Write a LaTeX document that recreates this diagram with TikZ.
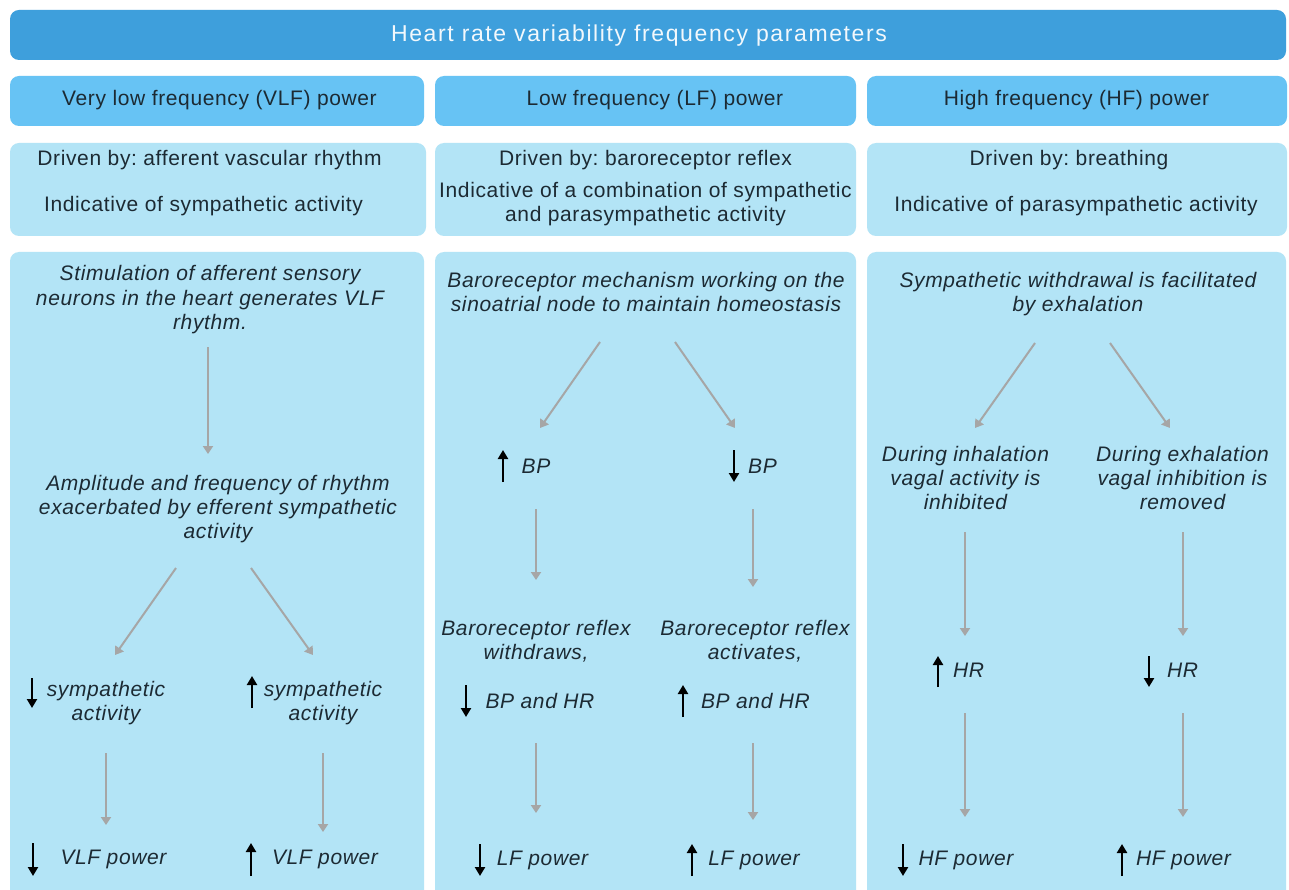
\documentclass[tikz,border=0pt]{standalone}
\usepackage{fontspec}
\newfontfamily\bodyf{Liberation Sans}[LetterSpace=3]
\newfontfamily\titlef{Liberation Sans}[LetterSpace=7]
\usetikzlibrary{arrows.meta,calc}
\definecolor{titlebg}{HTML}{3E9FDC}
\definecolor{titletxt}{HTML}{F2F8FC}
\definecolor{hdrbg}{HTML}{67C3F4}
\definecolor{boxbg}{HTML}{B3E4F6}
\definecolor{txt}{HTML}{1C2A33}
\definecolor{garr}{HTML}{A6A6A6}
\newcommand\ls{\rule[-6pt]{0pt}{22pt}}
\newcommand\indup[3]{\draw[indarrow] (#1,#3) -- (#1,#2);}
\newcommand\inddn[3]{\draw[indarrow] (#1,#2) -- (#1,#3);}
\begin{document}
\frenchspacing
\begin{tikzpicture}[x=1pt,y=-1pt,
  every node/.style={inner sep=0pt, outer sep=0pt, text=txt, font=\bodyf\frenchspacing\fontsize{21}{24}\selectfont},
  stx/.style={anchor=base},
  itx/.style={font=\bodyf\frenchspacing\itshape\fontsize{21}{24}\selectfont, align=center, anchor=north},
  sitx/.style={font=\bodyf\frenchspacing\itshape\fontsize{21}{24}\selectfont, anchor=base},
  garrow/.style={draw=garr, line width=2pt, -{Triangle[width=10pt,length=8pt]}},
  indarrow/.style={draw=black, line width=2.8pt, -{Triangle[width=10pt,length=9pt]}},
  titlebox/.style={fill=titlebg, rounded corners=9pt},
  hdrbox/.style={fill=hdrbg, rounded corners=9pt},
  lightbox/.style={fill=boxbg, rounded corners=9pt}
]
\useasboundingbox (0,0) rectangle (1289,890);
\clip (0,0) rectangle (1289,890);
\fill[white] (0,0) rectangle (1289,890);

% boxes
\path[titlebox] (10,10) rectangle (1286,60);
\path[hdrbox] (10,76) rectangle (424,126);
\path[hdrbox] (435,76) rectangle (856,126);
\path[hdrbox] (867,76) rectangle (1287,126);
\path[lightbox] (10,143) rectangle (426,236);
\path[lightbox] (435,143) rectangle (856,236);
\path[lightbox] (867,143) rectangle (1287,236);
\path[lightbox] (10,252) rectangle (424,905);
\path[lightbox] (435,252) rectangle (856,905);
\path[lightbox] (867,252) rectangle (1286,905);

% title and headers
\node[font=\titlef\fontsize{23}{26}\selectfont, text=titletxt, anchor=base] (title) at (639,41.5) {Heart rate variability frequency parameters};
\node[stx] (h1) at (219.5,106) {Very low frequency (VLF) power};
\node[stx] (h2) at (655,106) {Low frequency (LF) power};
\node[stx] (h3) at (1076.5,106) {High frequency (HF) power};

% row 2
\node[stx] (d1a) at (209.5,165.5) {Driven by: afferent vascular rhythm};
\node[stx] (d1b) at (203.5,211.5) {Indicative of sympathetic activity};
\node[stx] (d2a) at (645.5,165.5) {Driven by: baroreceptor reflex};
\node[anchor=north, align=center, font=\bodyf\frenchspacing\fontsize{21}{23.5}\selectfont] (d2b) at (645.5,182) {\ls Indicative of a combination of sympathetic\\\ls and parasympathetic activity};
\node[stx] (d3a) at (1069,165.5) {Driven by: breathing};
\node[stx] (d3b) at (1076,211.5) {Indicative of parasympathetic activity};

% column 1
\node[itx] (c1t) at (210,265) {\ls Stimulation of afferent sensory\\\ls neurons in the heart generates VLF\\\ls rhythm.};
\node[itx] (c1m) at (218,474) {\ls Amplitude and frequency of rhythm\\\ls exacerbated by efferent sympathetic\\\ls activity};
\node[itx] (c1l) at (106,680) {\ls sympathetic\\\ls activity};
\node[itx] (c1r) at (323,680) {\ls sympathetic\\\ls activity};
\node[sitx] (c1bl) at (113.5,864) {\ls VLF power};
\node[sitx] (c1br) at (325,864) {\ls VLF power};

\draw[garrow] ($(c1t.south)+(-2,12)$) -- ($(c1m.north)+(-10,-20)$);
\draw[garrow] ($(c1m.south)+(-42,24)$) -- ($(c1l.north)+(9,-25)$);
\draw[garrow] ($(c1m.south)+(33,24)$) -- ($(c1r.north)+(-10,-25)$);
\draw[garrow] ($(c1l.south)+(0,27)$) -- ($(c1bl.north)+(-7.5,-23)$);
\draw[garrow] ($(c1r.south)+(0,27)$) -- ($(c1br.north)+(-2,-16)$);

\inddn{32}{678}{708}
\indup{252}{676}{708}
\inddn{33}{843}{876}
\indup{251}{843}{876}

% column 2
\node[itx] (c2t) at (646,272) {\ls Baroreceptor mechanism working on the\\\ls sinoatrial node to maintain homeostasis};
\node[sitx] (c2l) at (536,473) {\ls BP};
\node[sitx] (c2r) at (762.5,473) {\ls BP};
\node[itx] (c2ml) at (536,619) {\ls Baroreceptor reflex\\\ls withdraws,};
\node[itx] (c2mr) at (755,619) {\ls Baroreceptor reflex\\\ls activates,};
\node[sitx] (c2bl) at (540,708) {\ls BP and HR};
\node[sitx] (c2br) at (755.5,708) {\ls BP and HR};
\node[sitx] (c2el) at (542.5,865) {\ls LF power};
\node[sitx] (c2er) at (754,865) {\ls LF power};

\draw[garrow] ($(c2t.south)+(-46,24)$) -- ($(c2l.north)+(4,-29)$);
\draw[garrow] ($(c2t.south)+(29,24)$) -- ($(c2r.north)+(-27.5,-29)$);
\draw[garrow] ($(c2l.south)+(0,30)$) -- ($(c2ml.north)+(0,-39)$);
\draw[garrow] ($(c2r.south)+(-9.5,30)$) -- ($(c2mr.north)+(-2,-32)$);
\draw[garrow] ($(c2bl.south)+(-4,29)$) -- ($(c2el.north)+(-6.5,-36)$);
\draw[garrow] ($(c2br.south)+(-2.5,29)$) -- ($(c2er.north)+(-1,-29)$);

\indup{503}{450}{482}
\inddn{734}{450}{482}
\inddn{466}{685}{717}
\indup{683}{685}{717}
\inddn{480}{844}{876}
\indup{692}{844}{876}

% column 3
\node[itx] (c3t) at (1078,272) {\ls Sympathetic withdrawal is facilitated\\\ls by exhalation};
\node[itx] (c3ml) at (965.5,445) {\ls During inhalation\\\ls vagal activity is\\\ls inhibited};
\node[itx] (c3mr) at (1182.5,445) {\ls During exhalation\\\ls vagal inhibition is\\\ls removed};
\node[sitx] (c3hl) at (968.5,677) {\ls HR};
\node[sitx] (c3hr) at (1182.5,677) {\ls HR};
\node[sitx] (c3el) at (966,865) {\ls HF power};
\node[sitx] (c3er) at (1183.5,865) {\ls HF power};

\draw[garrow] ($(c3t.south)+(-43,25)$) -- ($(c3ml.north)+(9.5,-17)$);
\draw[garrow] ($(c3t.south)+(32,25)$) -- ($(c3mr.north)+(-12.5,-17)$);
\draw[garrow] ($(c3ml.south)+(-0.5,17)$) -- ($(c3hl.north)+(-3.5,-25)$);
\draw[garrow] ($(c3mr.south)+(0.5,17)$) -- ($(c3hr.north)+(0.5,-25)$);
\draw[garrow] ($(c3hl.south)+(-3.5,30)$) -- ($(c3el.north)+(-1,-32)$);
\draw[garrow] ($(c3hr.south)+(0.5,30)$) -- ($(c3er.north)+(-0.5,-32)$);

\indup{938}{656}{687}
\inddn{1149}{656}{687}
\inddn{903}{844}{876}
\indup{1122}{844}{876}
\end{tikzpicture}
\end{document}
